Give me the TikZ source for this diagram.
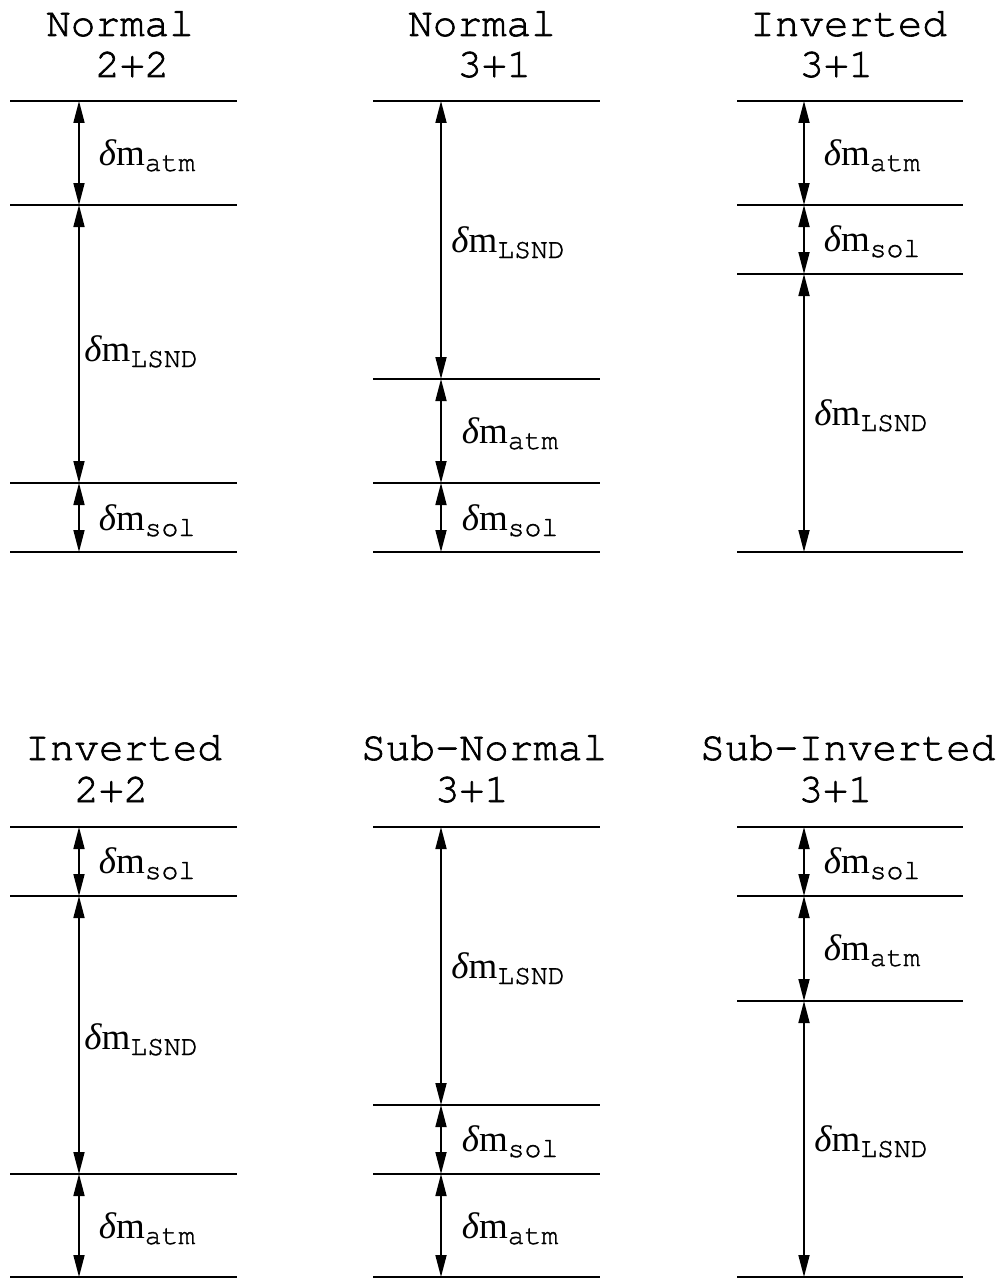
\documentclass[tikz,border=0pt]{standalone}
\usepackage{fontspec}
\usetikzlibrary{arrows.meta}
\newfontfamily\cur[FakeBold=1.6]{texgyrecursor-regular.otf}
\newfontfamily\curs[FakeBold=1.2]{texgyrecursor-regular.otf}
\newfontfamily\ser{Liberation Serif}
\newcommand\dmlabel[1]{{\ser\itshape δ}{\ser m}\raisebox{-6pt}{\curs\fontsize{28}{28}\selectfont #1}}
\tikzset{
  lvl/.style={line width=1.3pt},
  dbl/.style={line width=1.7pt,{Triangle[length=22pt,width=11pt]}-{Triangle[length=22pt,width=11pt]}},
  ttl/.style={inner sep=0pt,anchor=base west,font=\cur\fontsize{41}{41}\selectfont},
  lab/.style={inner sep=0pt,anchor=base,font=\fontsize{37}{37}\selectfont},
}
\begin{document}
\begin{tikzpicture}[x=1pt,y=-1pt]
\useasboundingbox (0,0) rectangle (1008,1279);
% ---------- titles ----------
\node[ttl] (t1a) at (46,36) {Normal};
\node[ttl] (t1b) at (95.2,77) {2+2};
\node[ttl] (t2a) at (408,36) {Normal};
\node[ttl] (t2b) at (457.2,77) {3+1};
\node[ttl] (t3a) at (750,36) {Inverted};
\node[ttl] (t3b) at (799.2,77) {3+1};
\node[ttl] (t4a) at (25,760) {Inverted};
\node[ttl] (t4b) at (74.2,802) {2+2};
\node[ttl] (t5a) at (361,760) {Sub-Normal};
\node[ttl] (t5b) at (434.8,802) {3+1};
\node[ttl] (t6a) at (700,760) {Sub-Inverted};
\node[ttl] (t6b) at (798.4,802) {3+1};
% ---------- column 1: Normal 2+2 ----------
\foreach \n/\y in {1/101,2/205,3/483,4/552}{
  \coordinate (A\n) at (79,\y);
  \draw[lvl] (10,\y) -- (237,\y);}
\draw[dbl] (A1) -- (A2);
\draw[dbl] (A2) -- (A3);
\draw[dbl] (A3) -- (A4);
\node[lab] (A12) at (147,165) {\dmlabel{atm}};
\node[lab] (A23) at (141,361) {\dmlabel{LSND}};
\node[lab] (A34) at (147,530) {\dmlabel{sol}};
% ---------- column 2: Normal 3+1 ----------
\foreach \n/\y in {1/101,2/379,3/483,4/552}{
  \coordinate (B\n) at (441,\y);
  \draw[lvl] (373,\y) -- (600,\y);}
\draw[dbl] (B1) -- (B2);
\draw[dbl] (B2) -- (B3);
\draw[dbl] (B3) -- (B4);
\node[lab] (B12) at (508,252) {\dmlabel{LSND}};
\node[lab] (B23) at (510,443) {\dmlabel{atm}};
\node[lab] (B34) at (510,530) {\dmlabel{sol}};
% ---------- column 3: Inverted 3+1 ----------
\foreach \n/\y in {1/101,2/205,3/274,4/552}{
  \coordinate (C\n) at (804,\y);
  \draw[lvl] (737,\y) -- (963,\y);}
\draw[dbl] (C1) -- (C2);
\draw[dbl] (C2) -- (C3);
\draw[dbl] (C3) -- (C4);
\node[lab] (C12) at (872,165) {\dmlabel{atm}};
\node[lab] (C23) at (872,251) {\dmlabel{sol}};
\node[lab] (C34) at (871,425) {\dmlabel{LSND}};
% ---------- column 4: Inverted 2+2 ----------
\foreach \n/\y in {1/827,2/896,3/1174,4/1277}{
  \coordinate (D\n) at (79,\y);
  \draw[lvl] (10,\y) -- (237,\y);}
\draw[dbl] (D1) -- (D2);
\draw[dbl] (D2) -- (D3);
\draw[dbl] (D3) -- (D4);
\node[lab] (D12) at (147,873) {\dmlabel{sol}};
\node[lab] (D23) at (141,1049) {\dmlabel{LSND}};
\node[lab] (D34) at (147,1238) {\dmlabel{atm}};
% ---------- column 5: Sub-Normal 3+1 ----------
\foreach \n/\y in {1/827,2/1105,3/1174,4/1277}{
  \coordinate (E\n) at (441,\y);
  \draw[lvl] (373,\y) -- (600,\y);}
\draw[dbl] (E1) -- (E2);
\draw[dbl] (E2) -- (E3);
\draw[dbl] (E3) -- (E4);
\node[lab] (E12) at (508,978) {\dmlabel{LSND}};
\node[lab] (E23) at (510,1151) {\dmlabel{sol}};
\node[lab] (E34) at (510,1238) {\dmlabel{atm}};
% ---------- column 6: Sub-Inverted 3+1 ----------
\foreach \n/\y in {1/827,2/896,3/1001,4/1277}{
  \coordinate (F\n) at (804,\y);
  \draw[lvl] (737,\y) -- (963,\y);}
\draw[dbl] (F1) -- (F2);
\draw[dbl] (F2) -- (F3);
\draw[dbl] (F3) -- (F4);
\node[lab] (F12) at (872,873) {\dmlabel{sol}};
\node[lab] (F23) at (872,960) {\dmlabel{atm}};
\node[lab] (F34) at (871,1151) {\dmlabel{LSND}};
\end{tikzpicture}
\end{document}
